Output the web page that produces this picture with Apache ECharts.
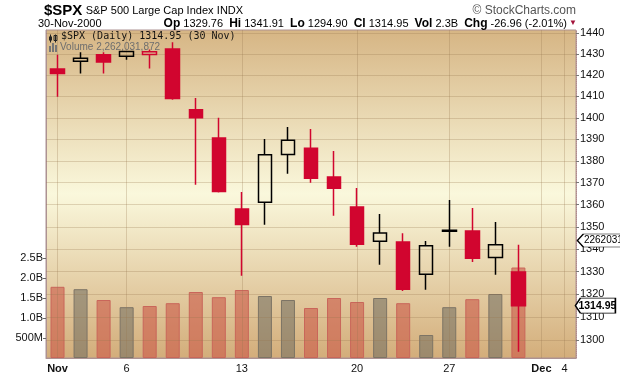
<!DOCTYPE html>
<html>
<head>
<meta charset="utf-8">
<script src="https://cdn.jsdelivr.net/npm/echarts@6/dist/echarts.min.js"></script>
<style>
  html, body { margin: 0; padding: 0; background: #fff; }
  #chart { width: 620px; height: 376px; }
</style>
</head>
<body>
<div id="chart"></div>
<script>
// trading days shown on the axis (Dec 1 / Dec 4 have no bars yet)
const days = ['Nov 1', 'Nov 2', 'Nov 3', 'Nov 6', 'Nov 7', 'Nov 8', 'Nov 9', 'Nov 10',
  'Nov 13', 'Nov 14', 'Nov 15', 'Nov 16', 'Nov 17', 'Nov 20', 'Nov 21', 'Nov 22', 'Nov 24',
  'Nov 27', 'Nov 28', 'Nov 29', 'Nov 30', 'Dec 1', 'Dec 4'];
const tickLabels = { 'Nov 1': 'Nov', 'Nov 6': '6', 'Nov 13': '13', 'Nov 20': '20', 'Nov 27': '27', 'Dec 1': 'Dec', 'Dec 4': '4' };
const monthLabels = ['Nov', 'Dec'];

const prevClose = 1429.40; // 31 Oct close, only used to colour the first bar
const opens  = [1423.0, 1426.7, 1429.7, 1429.0, 1429.9, 1432.5, 1403.7, 1390.6, 1358.0, 1361.1, 1383.0,
  1385.8, 1372.6, 1358.9, 1343.5, 1343.2, 1328.8, 1348.0, 1348.1, 1336.3, 1329.76];
const closes = [1420.8, 1428.1, 1426.3, 1431.3, 1431.2, 1409.0, 1400.0, 1366.0, 1351.0, 1382.8, 1389.6,
  1372.0, 1367.5, 1342.2, 1347.2, 1322.2, 1341.5, 1348.5, 1335.9, 1341.91, 1314.95];
const highs  = [1429.7, 1430.9, 1431.0, 1431.5, 1432.3, 1435.7, 1409.3, 1400.0, 1365.8, 1390.1, 1395.7,
  1394.8, 1384.6, 1367.6, 1355.8, 1347.1, 1343.6, 1362.1, 1358.5, 1352.2, 1341.91];
const lows   = [1409.9, 1420.8, 1420.8, 1427.4, 1423.2, 1408.4, 1369.1, 1365.5, 1328.1, 1350.9, 1374.1,
  1370.0, 1355.0, 1341.0, 1333.0, 1321.4, 1321.9, 1341.0, 1334.2, 1328.6, 1294.90];
const volumes = [1.78e9, 1.72e9, 1.45e9, 1.27e9, 1.30e9, 1.37e9, 1.65e9, 1.52e9, 1.70e9, 1.55e9, 1.45e9,
  1.25e9, 1.50e9, 1.40e9, 1.50e9, 1.37e9, 0.575e9, 1.27e9, 1.47e9, 1.60e9, 2262031872];

const priceTicks = [1300, 1310, 1320, 1330, 1340, 1350, 1360, 1370, 1380, 1390, 1400, 1410, 1420, 1430, 1440];
const volumeTicks = [5e8, 1e9, 1.5e9, 2e9, 2.5e9];

const FONT = '"Liberation Sans", Arial, sans-serif';
const RED = '#d1052f';
const GRID = 'rgba(150,120,80,0.28)';

const last = closes.length - 1;
const isDown = i => closes[i] < (i ? closes[i - 1] : prevClose);

const candleData = opens.map((o, i) => {
  const col = isDown(i) ? RED : '#000';
  const fill = closes[i] > o ? 'transparent' : col;
  return { value: [o, closes[i], lows[i], highs[i]], itemStyle: { color: fill, color0: fill, borderColor: col, borderColor0: col } };
});
const volData = volumes.map((v, i) => ({
  value: v,
  itemStyle: isDown(i)
    ? { color: 'rgba(204,92,74,0.62)', borderColor: '#c9665a' }
    : { color: 'rgba(118,112,98,0.58)', borderColor: '#7d7465' }
}));

const chg = closes[last] - closes[last - 1];
const chgPct = chg / closes[last - 1] * 100;
const volText = volumes[last].toLocaleString('en-US');

const chart = echarts.init(document.getElementById('chart'));

chart.setOption({
  animation: false,
  backgroundColor: '#fff',
  grid: {
    left: 46, right: 44, top: 30, bottom: 18,
    show: true,
    borderColor: '#ad9292',
    borderWidth: 1,
    backgroundColor: new echarts.graphic.LinearGradient(0, 0, 0, 1, [
      { offset: 0, color: '#d6b584' },
      { offset: 0.5, color: '#faf8dc' },
      { offset: 1, color: '#d3ad7a' }
    ])
  },
  xAxis: {
    type: 'category',
    data: days,
    boundaryGap: true,
    axisLine: { lineStyle: { color: '#ad9292' } },
    axisTick: { alignWithLabel: true, interval: 0, length: 3, lineStyle: { color: '#999' } },
    axisLabel: {
      interval: 0, margin: 5, fontFamily: FONT, fontSize: 11, color: '#111',
      formatter: v => {
        const t = tickLabels[v] || '';
        return monthLabels.includes(t) ? '{m|' + t + '}' : t;
      },
      rich: { m: { fontFamily: FONT, fontSize: 11, fontWeight: 'bold', color: '#111' } }
    },
    splitLine: { show: false }
  },
  yAxis: [
    {
      type: 'value', position: 'left', min: 0, max: 8.2e9,
      splitLine: { show: false },
      axisLine: { show: true, lineStyle: { color: '#ad9292' } },
      axisTick: { show: true, length: 3, customValues: volumeTicks, lineStyle: { color: '#666' } },
      axisLabel: {
        customValues: volumeTicks, margin: 3, fontFamily: FONT, fontSize: 11, color: '#111',
        formatter: v => v < 1e9 ? Math.round(v / 1e6) + 'M' : (v / 1e9).toFixed(1) + 'B'
      }
    },
    {
      type: 'log', logBase: 10, position: 'right', min: 1292.2, max: 1441.6,
      splitLine: { show: false },
      axisLine: { show: true, lineStyle: { color: '#b08a8a', type: 'dotted' } },
      axisTick: { show: true, length: 3, customValues: priceTicks, lineStyle: { color: '#777' } },
      axisLabel: {
        customValues: priceTicks, margin: 4, fontFamily: FONT, fontSize: 11, color: '#111',
        formatter: v => String(Math.round(v))
      }
    }
  ],
  series: [
    {
      name: 'Volume',
      type: 'bar',
      yAxisIndex: 0,
      data: volData,
      barWidth: 14,
      z: 2,
      itemStyle: { borderWidth: 1 },
      markLine: {
        silent: true, symbol: 'none', label: { show: false },
        lineStyle: { color: GRID, width: 1, type: 'solid' },
        data: Object.keys(tickLabels).map(d => ({ xAxis: d }))
      },
      markPoint: {
        symbol: 'path://M0,6 L6,0 L46,0 L46,12 L6,12 Z',
        symbolSize: [46, 13],
        symbolKeepAspect: false,
        symbolOffset: [82, -27],
        itemStyle: { color: '#fff', borderColor: '#000', borderWidth: 1 },
        label: { show: true, position: 'inside', offset: [3, 0], formatter: '{c}', fontFamily: FONT, fontSize: 10, color: '#000' },
        data: [{ coord: [days[last], volumes[last]], value: String(Math.floor(volumes[last] / 1000)) }]
      }
    },
    {
      name: '$SPX',
      type: 'candlestick',
      yAxisIndex: 1,
      data: candleData,
      barWidth: 14,
      z: 10,
      itemStyle: { borderWidth: 1.5 },
      markLine: {
        silent: true, symbol: 'none', label: { show: false },
        lineStyle: { color: GRID, width: 1, type: 'solid' },
        data: priceTicks.map(p => ({ yAxis: p }))
      },
      markPoint: {
        symbol: 'path://M0,7 L5,0 L40,0 L40,14 L5,14 Z',
        symbolSize: [40, 15],
        symbolKeepAspect: false,
        symbolOffset: [77, 0],
        itemStyle: { color: '#fff', borderColor: '#000', borderWidth: 1 },
        label: { show: true, position: 'inside', offset: [2, 0], formatter: '{c}', fontFamily: FONT, fontSize: 10.5, fontWeight: 'bold', color: '#000' },
        data: [{ coord: [days[last], closes[last]], value: closes[last].toFixed(2) }]
      }
    }
  ],
  graphic: [
    {
      type: 'text', left: 44, top: 3,
      style: {
        text: '{t|$SPX} {s|S&P 500 Large Cap Index} {s|INDX}',
        rich: {
          t: { font: 'bold 15px ' + FONT, fill: '#000' },
          s: { font: '11px ' + FONT, fill: '#000' }
        }
      }
    },
    {
      type: 'text', right: 44, top: 5,
      style: { text: '© StockCharts.com', font: '12px ' + FONT, fill: '#555' }
    },
    {
      type: 'text', left: 38, top: 18,
      style: { text: '30-Nov-2000', font: '11px ' + FONT, fill: '#000' }
    },
    {
      type: 'text', right: 53, top: 18,
      style: {
        text: '{b|Op} ' + opens[last].toFixed(2) + '  {b|Hi} ' + highs[last].toFixed(2) +
          '  {b|Lo} ' + lows[last].toFixed(2) + '  {b|Cl} ' + closes[last].toFixed(2) +
          '  {b|Vol} ' + (volumes[last] / 1e9).toFixed(1) + 'B  {b|Chg} ' + chg.toFixed(2) +
          ' (' + chgPct.toFixed(2) + '%)',
        font: '11px ' + FONT, fill: '#000',
        rich: { b: { font: 'bold 12px ' + FONT, fill: '#000' } }
      }
    },
    {
      type: 'text', right: 43, top: 19,
      style: { text: '▼', font: '8px ' + FONT, fill: '#a3123a' }
    },
    // legend inside the plot
    {
      type: 'group', left: 49, top: 33,
      children: [
        { type: 'rect', shape: { x: 1, y: 0, width: 1, height: 8 }, style: { fill: '#222' } },
        { type: 'rect', shape: { x: 0, y: 2, width: 3, height: 4 }, style: { fill: '#222' } },
        { type: 'rect', shape: { x: 6, y: 0, width: 1, height: 8 }, style: { fill: '#222' } },
        { type: 'rect', shape: { x: 5, y: 1, width: 3, height: 5 }, style: { fill: 'none', stroke: '#222', lineWidth: 1 } }
      ]
    },
    {
      type: 'text', left: 61, top: 31,
      style: { text: '$SPX (Daily) ' + closes[last].toFixed(2) + ' (30 Nov)', font: '10px "DejaVu Sans Mono", monospace', fill: '#111' }
    },
    {
      type: 'group', left: 49, top: 43,
      children: [
        { type: 'rect', shape: { x: 0, y: 3, width: 2, height: 6 }, style: { fill: '#777' } },
        { type: 'rect', shape: { x: 3, y: 0, width: 2, height: 9 }, style: { fill: '#777' } },
        { type: 'rect', shape: { x: 6, y: 2, width: 2, height: 7 }, style: { fill: '#777' } }
      ]
    },
    {
      type: 'text', left: 60, top: 42,
      style: { text: 'Volume ' + volText, font: '10px ' + FONT, fill: '#6e6e6e' }
    }
  ]
});
</script>
</body>
</html>
